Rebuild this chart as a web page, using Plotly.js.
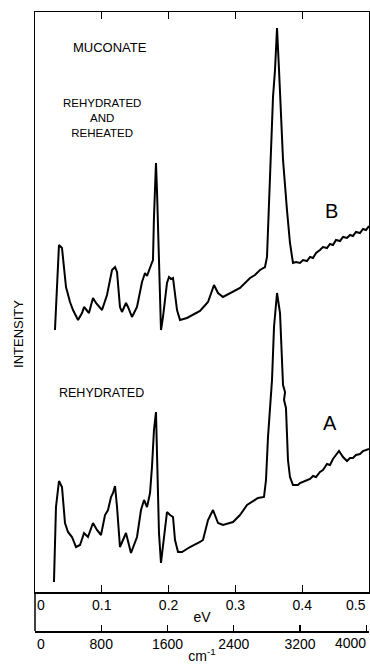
<!DOCTYPE html>
<html>
<head>
<meta charset="utf-8">
<script src="https://cdn.plot.ly/plotly-3.0.1.min.js"></script>
<style>
html,body{margin:0;padding:0;background:#fff;}
#chart{width:370px;height:666px;}
</style>
</head>
<body>
<div id="chart"></div>
<script>
// Spectrum B: rehydrated and reheated (x in eV, intensity in arbitrary units)
const energyB = [0.0299,0.0329,0.0359,0.0404,0.0464,0.0524,0.0569,0.0644,0.0704,0.0734,0.0808,0.0868,0.0913,0.1003,0.1078,0.1153,0.1198,0.1228,0.1272,0.1302,0.1362,0.1392,0.1452,0.1527,0.1602,0.1647,0.1677,0.1737,0.1766,0.1781,0.1811,0.1826,0.1856,0.1886,0.1916,0.1976,0.2006,0.2036,0.2066,0.2126,0.2171,0.2275,0.2470,0.2590,0.2680,0.2740,0.2814,0.2919,0.3069,0.3219,0.3293,0.3368,0.3443,0.3473,0.3518,0.3563,0.3593,0.3623,0.3653,0.3668,0.3713,0.3772,0.3817,0.3862,0.3907,0.3967,0.4012,0.4072,0.4117,0.4162,0.4207,0.4266,0.4311,0.4371,0.4416,0.4461,0.4506,0.4566,0.4611,0.4671,0.4716,0.4760,0.4805,0.4865,0.4910,0.4955,0.5000];
const intensityB = [262,302,347,344,305,290,282,272,279,285,279,294,289,282,297,322,325,320,285,280,289,285,275,285,310,319,316,327,332,375,429,402,342,262,275,309,315,313,314,282,272,274,281,290,307,299,295,299,304,314,317,322,325,335,415,495,522,564,522,499,432,382,349,329,330,329,332,331,335,334,339,342,345,344,348,347,352,351,355,354,357,356,360,359,363,362,366];

// Spectrum A: rehydrated
const energyA = [0.0284,0.0299,0.0314,0.0359,0.0404,0.0449,0.0494,0.0554,0.0614,0.0674,0.0734,0.0793,0.0868,0.0928,0.0988,0.1048,0.1093,0.1138,0.1168,0.1198,0.1228,0.1272,0.1317,0.1362,0.1437,0.1527,0.1587,0.1632,0.1677,0.1722,0.1751,0.1781,0.1811,0.1826,0.1856,0.1886,0.1916,0.1976,0.2021,0.2066,0.2096,0.2141,0.2201,0.2320,0.2470,0.2515,0.2590,0.2665,0.2740,0.2814,0.2964,0.3069,0.3174,0.3338,0.3428,0.3458,0.3488,0.3548,0.3578,0.3623,0.3668,0.3713,0.3743,0.3728,0.3757,0.3787,0.3817,0.3862,0.3937,0.3967,0.4042,0.4117,0.4162,0.4207,0.4266,0.4311,0.4371,0.4416,0.4461,0.4506,0.4551,0.4611,0.4671,0.4716,0.4760,0.4805,0.4865,0.4910,0.4955,0.5000];
const intensityA = [10,52,85,111,105,69,60,55,45,47,59,55,69,62,57,77,82,95,99,106,85,45,52,59,39,55,82,92,85,99,125,162,180,135,59,29,45,80,77,75,52,40,40,45,50,52,72,82,69,67,70,77,87,94,95,112,155,212,265,299,279,207,200,192,184,132,115,107,107,109,111,113,116,115,120,122,128,127,133,137,141,135,131,134,134,137,138,141,142,143];

// Axis ticks (the last label of each scale is drawn right-aligned at the edge)
const evTicks = [0,0.1,0.2,0.3,0.4];
const evTickText = ["\u00a0\u00a0\u00a00","0.1","0.2","0.3","0.4"];
const evLastLabel = "0.5";
const cmTicks = [0,800,1600,2400,3200];
const cmTickText = ["\u00a0\u00a0\u00a00","800","1600","2400","3200"];
const cmLastTick = [4000];
const cmLastLabel = "4000";

const font = {family: "Liberation Sans, Arial, sans-serif", color: "#000"};
const lineStyle = {color: "#000", width: 2};

const traces = [
  {x: energyB, y: intensityB, type: "scatter", mode: "lines", line: lineStyle, name: "B", hoverinfo: "skip", xaxis: "x", yaxis: "y"},
  {x: energyA, y: intensityA, type: "scatter", mode: "lines", line: lineStyle, name: "A", hoverinfo: "skip", xaxis: "x", yaxis: "y"},
  {x: [], y: [], type: "scatter", mode: "lines", name: "cm-1 scale", hoverinfo: "skip", xaxis: "x2", yaxis: "y", showlegend: false}
];

const ann = (text, x, y, size, extra) => Object.assign({
  text: text, x: x, y: y, xref: "x", yref: "y", showarrow: false,
  font: Object.assign({}, font, {size: size}), xanchor: "center", yanchor: "middle"
}, extra || {});

const layout = {
  width: 370, height: 666,
  margin: {l: 35, r: 1, t: 12, b: 35, pad: 0},
  paper_bgcolor: "#fff", plot_bgcolor: "#fff",
  showlegend: false,
  font: Object.assign({}, font, {size: 14}),
  xaxis: {
    range: [0, 0.5], anchor: "y", side: "bottom",
    showline: true, linecolor: "#000", linewidth: 1.5, mirror: "ticks",
    ticks: "inside", ticklen: 7, tickwidth: 1.2, tickcolor: "#000",
    tickvals: evTicks, ticktext: evTickText,
    showgrid: false, zeroline: false,
    tickfont: Object.assign({}, font, {size: 14}),
    title: {text: "eV", font: Object.assign({}, font, {size: 14}), standoff: 0}
  },
  xaxis2: {
    visible: true,
    range: [0, 4032.8], overlaying: "x", anchor: "free", position: 0, side: "bottom",
    showline: true, linecolor: "#000", linewidth: 1.5,
    ticks: "inside", ticklen: 6, tickwidth: 1.2, tickcolor: "#000",
    tickvals: cmTicks, ticktext: cmTickText,
    minor: {tickvals: cmLastTick, ticks: "inside", ticklen: 6, tickwidth: 1.2, tickcolor: "#000", showgrid: false},
    showgrid: false, zeroline: false,
    tickfont: Object.assign({}, font, {size: 14}),
    title: {text: "cm<sup>-1</sup>", font: Object.assign({}, font, {size: 14}), standoff: 0}
  },
  yaxis: {
    range: [0, 580], domain: [0.063, 1], anchor: "x",
    showline: true, linecolor: "#000", linewidth: 1.5, mirror: true,
    ticks: "", showticklabels: false, showgrid: false, zeroline: false
  },
  shapes: [
    {type: "line", xref: "paper", yref: "paper", x0: 0, x1: 0, y0: 0, y1: 0.063, line: {color: "#000", width: 1.5}}
  ],
  annotations: [
    {text: "INTENSITY", xref: "paper", yref: "y", x: -0.051, y: 258, textangle: -90, showarrow: false,
     font: Object.assign({}, font, {size: 13}), xanchor: "center", yanchor: "middle"},
    {text: evLastLabel, xref: "x", yref: "paper", x: 0.4985, y: 0.042, showarrow: false,
     font: Object.assign({}, font, {size: 14}), xanchor: "right", yanchor: "middle"},
    {text: cmLastLabel, xref: "x2", yref: "paper", x: 4020, y: -0.0194, showarrow: false,
     font: Object.assign({}, font, {size: 14}), xanchor: "right", yanchor: "middle"},
    ann("MUCONATE", 0.112, 545, 13),
    ann("REHYDRATED<br>AND<br>REHEATED", 0.100, 474, 11.5),
    ann("REHYDRATED", 0.100, 199, 12.5),
    ann("B", 0.4446, 381, 20),
    ann("A", 0.4416, 169, 20)
  ]
};

Plotly.newPlot("chart", traces, layout, {staticPlot: true, displayModeBar: false});
</script>
</body>
</html>
